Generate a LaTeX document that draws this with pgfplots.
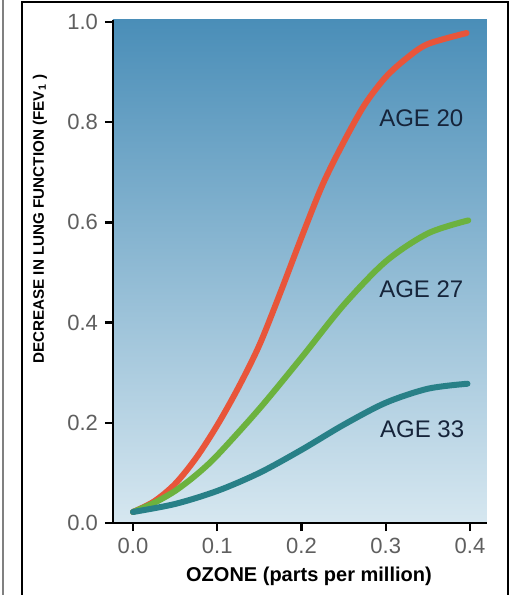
\documentclass[border=0pt]{standalone}
\usepackage{pgfplots}
\pgfplotsset{compat=1.18}
\usepackage{fontspec}
\setmainfont{Liberation Sans}

\definecolor{agered}{RGB}{232,85,58}
\definecolor{agegreen}{RGB}{108,178,62}
\definecolor{ageteal}{RGB}{40,128,135}
\definecolor{bgtop}{RGB}{74,142,184}
\definecolor{bgmid}{RGB}{128,180,210}
\definecolor{bgbot}{RGB}{214,231,240}
\definecolor{ticktext}{RGB}{95,95,95}
\definecolor{agetext}{RGB}{22,36,58}

\begin{document}
\begin{tikzpicture}
\useasboundingbox (-56.5pt,-36pt) rectangle (202.5pt,261.5pt);
\begin{axis}[
  scale only axis, width=187pt, height=251.5pt,
  xmin=-0.0237, xmax=0.4202, ymin=0, ymax=1.004,
  axis lines=left, axis line style={-, line width=1.4pt, black},
  tick align=outside, major tick length=4pt,
  tick style={line width=1.2pt, black},
  xtick={0,0.1,0.2,0.3,0.4}, ytick={0,0.2,0.4,0.6,0.8,1.0},
  /pgf/number format/.cd, fixed, fixed zerofill, precision=1, assume math mode=true, /pgfplots/.cd,
  ticklabel style={font=\fontsize{11}{13}\selectfont, text=ticktext},
  xlabel={OZONE (parts per million)},
  xlabel style={font=\bfseries\fontsize{10}{12}\selectfont, at={(axis description cs:0.524,-0.107)}, anchor=center},
  ylabel={DECREASE IN LUNG FUNCTION (FEV\textsubscript{1} )},
  ylabel style={font=\bfseries\fontsize{7.6}{9}\selectfont, at={(axis description cs:-0.195,0.604)}, anchor=center},
  axis background/.style={top color=bgtop, middle color=bgmid, bottom color=bgbot},
]
% AGE 20
\addplot[agered, line width=3pt, smooth, line cap=round] coordinates {
(0,0.022) (0.025,0.043) (0.05,0.078) (0.075,0.13) (0.1,0.195) (0.125,0.27)
(0.15,0.355) (0.175,0.46) (0.2,0.57) (0.225,0.675) (0.25,0.76) (0.275,0.835)
(0.3,0.89) (0.325,0.928) (0.35,0.956) (0.396,0.978)
};
% AGE 27
\addplot[agegreen, line width=3pt, smooth, line cap=round] coordinates {
(0,0.022) (0.025,0.04) (0.05,0.064) (0.075,0.096) (0.1,0.135) (0.15,0.228)
(0.2,0.33) (0.25,0.435) (0.3,0.522) (0.35,0.578) (0.398,0.604)
};
% AGE 33
\addplot[ageteal, line width=3pt, smooth, line cap=round] coordinates {
(0,0.022) (0.05,0.038) (0.1,0.064) (0.15,0.1) (0.2,0.146) (0.25,0.196)
(0.3,0.24) (0.35,0.268) (0.397,0.278)
};
\node[anchor=west, text=agetext, font=\fontsize{12}{14}\selectfont] at (axis cs:0.284,0.808) {AGE 20};
\node[anchor=west, text=agetext, font=\fontsize{12}{14}\selectfont] at (axis cs:0.284,0.467) {AGE 27};
\node[anchor=west, text=agetext, font=\fontsize{12}{14}\selectfont] at (axis cs:0.285,0.188) {AGE 33};
\end{axis}
\draw[line width=0.8pt] (-45.5pt,-40pt) -- (-45.5pt,260.5pt) -- (197.5pt,260.5pt) -- (197.5pt,-40pt);
\draw[gray, line width=1pt] (-55pt,-40pt) -- (-55pt,262pt);
\end{tikzpicture}
\end{document}
